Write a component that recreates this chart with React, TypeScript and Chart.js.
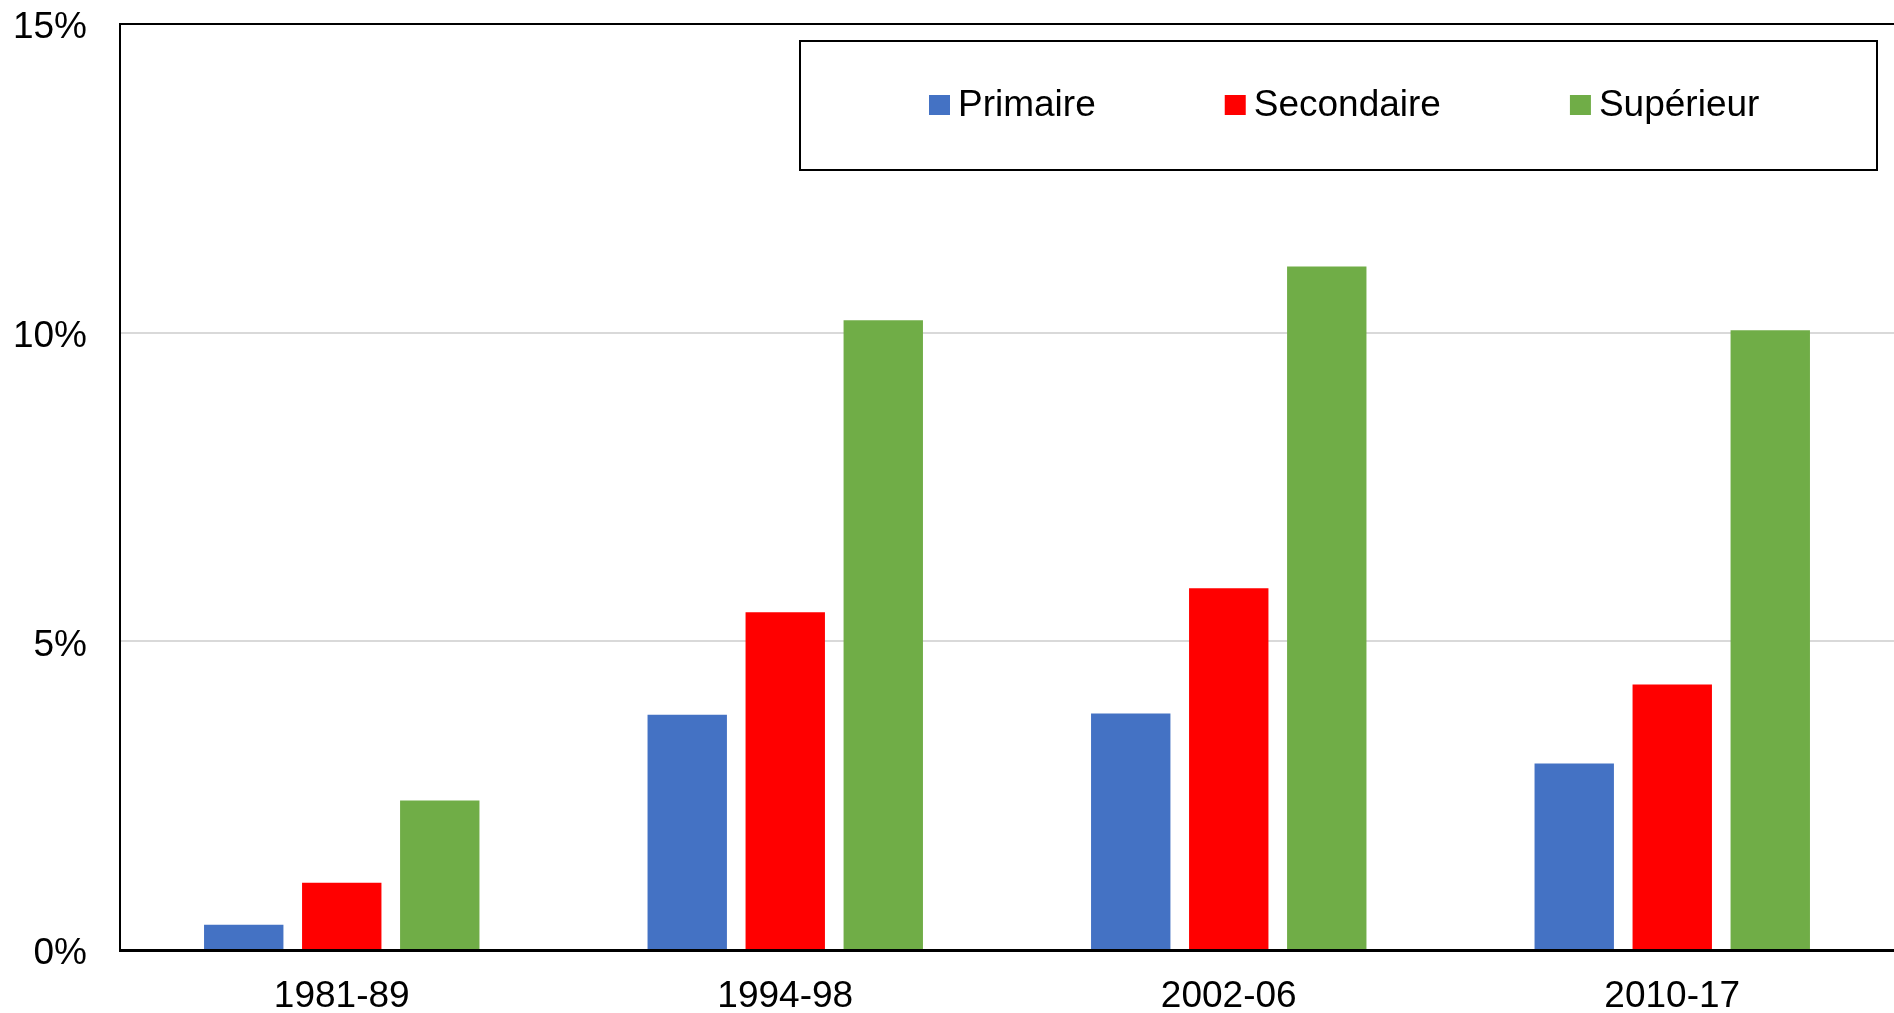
import React, { useEffect, useRef } from "react";
import { Chart, registerables } from "chart.js";

Chart.register(...registerables);

const categories = ["1981-89", "1994-98", "2002-06", "2010-17"];
const primaire = [0.41, 3.81, 3.83, 3.02];
const secondaire = [1.09, 5.47, 5.86, 4.3];
const superieur = [2.42, 10.2, 11.07, 10.04];
const seriesLabels = ["Primaire", "Secondaire", "Supérieur"];
const seriesColors = ["#4472C4", "#FF0000", "#70AD47"];
const yTicks = [0, 5, 10, 15];

const FONT = "'Liberation Sans', Arial, sans-serif";

const legendBoxPlugin = {
  id: "legendBox",
  afterDraw(chart: any) {
    const ctx = chart.ctx;
    ctx.save();
    const x0 = 800, y0 = 41, x1 = 1877, y1 = 170;
    ctx.fillStyle = "#fff";
    ctx.fillRect(x0, y0, x1 - x0, y1 - y0);
    ctx.strokeStyle = "#000";
    ctx.lineWidth = 2;
    ctx.strokeRect(x0, y0, x1 - x0, y1 - y0);
    ctx.font = `37px ${FONT}`;
    ctx.textBaseline = "middle";
    ctx.textAlign = "left";
    let x = 929;
    const cy = 105;
    chart.data.datasets.forEach((ds: any) => {
      ctx.fillStyle = ds.backgroundColor;
      ctx.fillRect(x, cy - 10, 21, 20);
      ctx.fillStyle = "#000";
      ctx.fillText(ds.label, x + 29, cy + 1);
      x += 29 + ctx.measureText(ds.label).width + 129;
    });
    ctx.restore();
  },
};

export default function App() {
  const ref = useRef<HTMLCanvasElement>(null);
  useEffect(() => {
    const values = [primaire, secondaire, superieur];
    const chart = new Chart(ref.current!, {
      type: "bar",
      data: {
        labels: categories,
        datasets: values.map((v, i) => ({
          label: seriesLabels[i],
          data: v,
          backgroundColor: seriesColors[i],
          borderWidth: 0,
          categoryPercentage: 0.663,
          barPercentage: 0.81,
        })),
      },
      options: {
        animation: false,
        responsive: false,
        maintainAspectRatio: false,
        layout: { padding: { top: 24, left: 0, right: 0, bottom: 0 } },
        plugins: { legend: { display: false }, tooltip: { enabled: false } },
        scales: {
          x: {
            grid: { display: false, drawTicks: false },
            border: { color: "#000", width: 3 },
            ticks: { color: "#000", font: { family: FONT, size: 37 }, padding: 25, maxRotation: 0 },
            afterFit: (s: any) => { s.height = 63; s.paddingLeft = 0; s.paddingRight = 0; },
          },
          y: {
            min: 0,
            max: 15,
            afterBuildTicks: (s: any) => { s.ticks = yTicks.map((v) => ({ value: v })); },
            grid: {
              drawTicks: false,
              color: (c: any) => (c.tick && c.tick.value === 15 ? "#000" : "#D9D9D9"),
              lineWidth: 2,
            },
            border: { color: "#000", width: 2 },
            ticks: {
              color: "#000",
              font: { family: FONT, size: 37 },
              padding: 33,
              labelOffset: 4,
              callback: (v: any) => `${v}%`,
            },
            afterFit: (s: any) => { s.width = 120; s.paddingTop = 0; s.paddingBottom = 0; },
          },
        },
      },
      plugins: [legendBoxPlugin],
    });
    return () => chart.destroy();
  }, []);
  return (
    <div style={{ position: "fixed", left: 0, top: 0, width: 1894, height: 1013, overflow: "hidden", background: "#fff" }}>
      <canvas ref={ref} width={1894} height={1013} style={{ display: "block" }} />
    </div>
  );
}
